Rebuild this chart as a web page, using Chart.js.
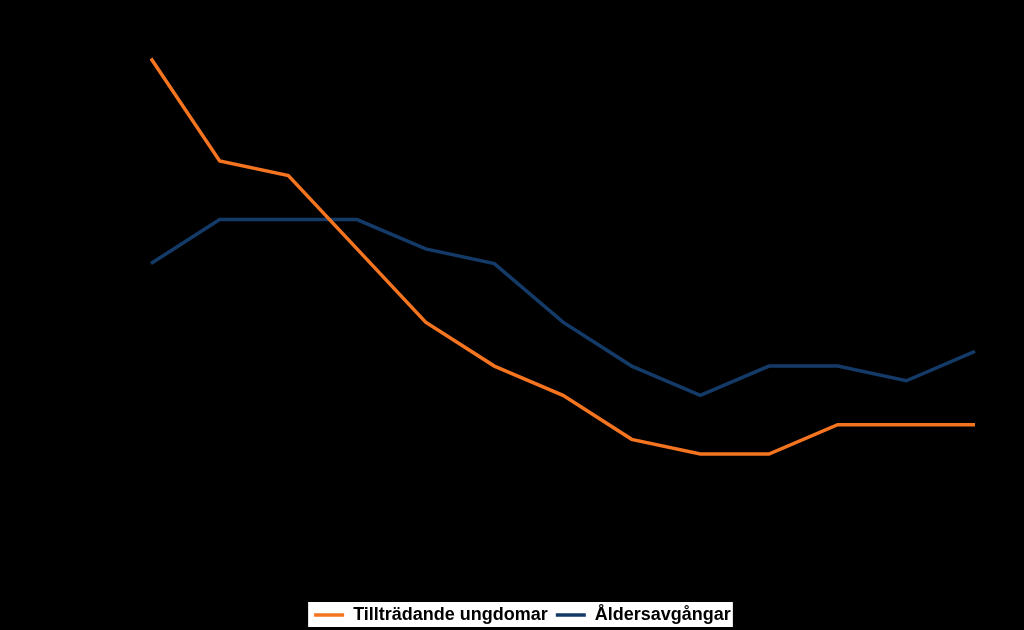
<!DOCTYPE html>
<html>
<head>
<meta charset="utf-8">
<script src="https://cdn.jsdelivr.net/npm/chart.js@4"></script>
<style>
  html, body { margin: 0; padding: 0; background: #000; }
  #wrap { width: 1024px; height: 630px; }
</style>
</head>
<body>
<div id="wrap"><canvas id="chart"></canvas></div>
<script>
// years along x (axis text is black on black in the original, so hidden)
var years = ['2010','2011','2012','2013','2014','2015','2016','2017','2018','2019','2020','2021','2022'];
var ungdomar = [47, 40, 39, 34, 29, 26, 24, 21, 20, 20, 22, 22, 22];
var avgangar = [33, 36, 36, 36, 34, 33, 29, 26, 24, 26, 26, 25, 27];

var orange = '#f47420';
var navy = '#143a68';

// white box behind the legend
var legendBg = {
  id: 'legendBg',
  beforeDraw: function(chart) {
    var hb = chart.legend.legendHitBoxes;
    if (!hb || !hb.length) return;
    var first = hb[0], last = hb[hb.length - 1];
    var mid = first.top + first.height / 2;
    var ctx = chart.ctx;
    ctx.save();
    ctx.fillStyle = '#fff';
    ctx.fillRect(first.left - 6, mid - 13, last.left + last.width + 2 - (first.left - 6), 25);
    ctx.restore();
  }
};

new Chart(document.getElementById('chart'), {
  type: 'line',
  data: {
    labels: years,
    datasets: [{
      label: 'Tillträdande ungdomar',
      data: ungdomar,
      borderColor: orange,
      backgroundColor: orange,
      borderWidth: 3.5,
      pointRadius: 0,
      tension: 0
    }, {
      label: 'Åldersavgångar',
      data: avgangar,
      borderColor: navy,
      backgroundColor: navy,
      borderWidth: 3.5,
      pointRadius: 0,
      tension: 0
    }]
  },
  options: {
    responsive: true,
    maintainAspectRatio: false,
    animation: false,
    layout: { padding: { top: 20, left: 21, right: 0, bottom: -4 } },
    scales: {
      x: { display: false },
      y: {
        min: 10.17, max: 49.625,
        grid: { display: false },
        border: { display: false },
        ticks: { display: false },
        afterFit: function(s) { s.width = 130; }
      },
      y2: {
        position: 'right',
        grid: { display: false },
        border: { display: false },
        ticks: { display: false },
        afterFit: function(s) { s.width = 49; }
      }
    },
    plugins: {
      legend: {
        position: 'bottom',
        labels: {
          color: '#000',
          boxWidth: 30,
          boxHeight: 0,
          padding: 8,
          font: { family: 'Liberation Sans, Arial, sans-serif', size: 18, weight: 'bold' }
        }
      },
      tooltip: { enabled: false }
    }
  },
  plugins: [legendBg]
});
</script>
</body>
</html>
